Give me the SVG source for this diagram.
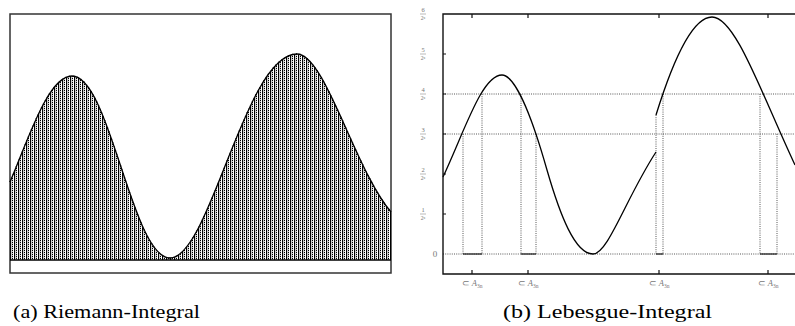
<svg xmlns="http://www.w3.org/2000/svg" width="795" height="326" viewBox="0 0 795 326">
<style>
.axis{fill:none;stroke:#111;stroke-width:1.4}
.curve{fill:none;stroke:#000;stroke-width:1.3}
.dot{fill:none;stroke:#444;stroke-width:0.9;stroke-dasharray:1 1.2}
.set{fill:none;stroke:#222;stroke-width:1.3}
.tick{fill:none;stroke:#111;stroke-width:1.2}
.lab{fill:#777}
.cap{font-size:19px;fill:#000}
</style>
<defs>
<pattern id="hatch" x="10" y="0" width="4" height="2" patternUnits="userSpaceOnUse">
<rect x="0" y="0" width="1.2" height="2" fill="#000"/>
<rect x="2" y="0" width="1" height="1.2" fill="#000"/>
</pattern>
</defs>
<rect width="795" height="326" fill="#fff"/>
<g id="riemann">
<rect x="10" y="14" width="381" height="259" fill="none" stroke="#333" stroke-width="1.5"/>
<path d="M10,260 L10,182 C28,140 48,76 72,76 C110,76 132,258 170,258 C210,258 245,54 297,54 C325,54 355,170 391,212 L391,260 Z" fill="url(#hatch)"/>
<path class="curve" d="M10,182 C28,140 48,76 72,76 C110,76 132,258 170,258 C210,258 245,54 297,54 C325,54 355,170 391,212"/>
<path class="curve" d="M10,182 C28,140 48,76 72,76 C110,76 132,258 170,258 C210,258 245,54 297,54 C325,54 355,170 391,212" stroke-width="3" stroke-dasharray="0.8 3.2" stroke="#444"/>
<line x1="10" y1="260" x2="391" y2="260" stroke="#000" stroke-width="1.3"/>
</g>
<g id="lebesgue">
<g id="grid">
<line class="dot" x1="443" y1="94" x2="795" y2="94"/>
<line class="dot" x1="443" y1="134" x2="795" y2="134"/>
<line class="dot" x1="443" y1="254" x2="795" y2="254"/>
<line class="dot" x1="463" y1="134" x2="463" y2="254"/>
<line class="dot" x1="482" y1="94" x2="482" y2="254"/>
<line class="dot" x1="521" y1="94" x2="521" y2="254"/>
<line class="dot" x1="536" y1="134" x2="536" y2="254"/>
<line class="dot" x1="656" y1="115" x2="656" y2="254"/>
<line class="dot" x1="663" y1="94" x2="663" y2="254"/>
<line class="dot" x1="760" y1="94" x2="760" y2="254"/>
<line class="dot" x1="777" y1="134" x2="777" y2="254"/>
</g>
<g id="sets">
<line class="set" x1="463" y1="254" x2="482" y2="254"/>
<line class="set" x1="521" y1="254" x2="536" y2="254"/>
<line class="set" x1="656" y1="254" x2="663" y2="254"/>
<line class="set" x1="760" y1="254" x2="777" y2="254"/>
</g>
<path class="curve" d="M443,177 C465,130 482,75 502,75 C514,75 530,110 547,170 C560,215 575,254 593,254 C608,254 626,198 656,152"/>
<path class="curve" d="M656,115 C670,70 690,17 712,17 C735,17 760,90 795,165"/>
<g id="axes">
<path class="axis" d="M795,14 H443 V274 H795"/>
<path class="tick" d="M472,14 v4 M528,14 v4 M659,14 v4 M768,14 v4 M472,274 v-4 M528,274 v-4 M659,274 v-4 M768,274 v-4 M443,54 h3 M443,94 h3 M443,134 h3 M443,174 h3 M443,214 h3"/>
</g>
<g id="ylabels" class="lab" font-family="Liberation Serif, serif" font-size="6.5" text-anchor="middle">
<text x="423" y="12">6</text><line x1="420" y1="14" x2="426" y2="14" stroke="#777" stroke-width="0.5"/><text x="423" y="19.5" font-size="5.5">2ⁿ</text>
<text x="423" y="52">5</text><line x1="420" y1="54" x2="426" y2="54" stroke="#777" stroke-width="0.5"/><text x="423" y="59.5" font-size="5.5">2ⁿ</text>
<text x="423" y="92">4</text><line x1="420" y1="94" x2="426" y2="94" stroke="#777" stroke-width="0.5"/><text x="423" y="99.5" font-size="5.5">2ⁿ</text>
<text x="423" y="132">3</text><line x1="420" y1="134" x2="426" y2="134" stroke="#777" stroke-width="0.5"/><text x="423" y="139.5" font-size="5.5">2ⁿ</text>
<text x="423" y="172">2</text><line x1="420" y1="174" x2="426" y2="174" stroke="#777" stroke-width="0.5"/><text x="423" y="179.5" font-size="5.5">2ⁿ</text>
<text x="423" y="212">1</text><line x1="420" y1="214" x2="426" y2="214" stroke="#777" stroke-width="0.5"/><text x="423" y="219.5" font-size="5.5">2ⁿ</text>
<text x="435" y="257" font-size="9">0</text>
</g>
<g id="xlabels" class="lab" font-family="Liberation Serif, serif" font-size="8.5" text-anchor="middle">
<text x="472" y="286">⊂ <tspan font-style="italic">A</tspan><tspan font-size="5.5" dy="2">3n</tspan></text>
<text x="528" y="286">⊂ <tspan font-style="italic">A</tspan><tspan font-size="5.5" dy="2">3n</tspan></text>
<text x="659" y="286">⊂ <tspan font-style="italic">A</tspan><tspan font-size="5.5" dy="2">3n</tspan></text>
<text x="768" y="286">⊂ <tspan font-style="italic">A</tspan><tspan font-size="5.5" dy="2">3n</tspan></text>
</g>
</g>
<g id="captions" font-family="Liberation Serif, serif">
<text class="cap" x="13" y="318" textLength="187" lengthAdjust="spacingAndGlyphs">(a)  Riemann-Integral</text>
<text class="cap" x="503" y="318" textLength="209" lengthAdjust="spacingAndGlyphs">(b)  Lebesgue-Integral</text>
</g>
</svg>
